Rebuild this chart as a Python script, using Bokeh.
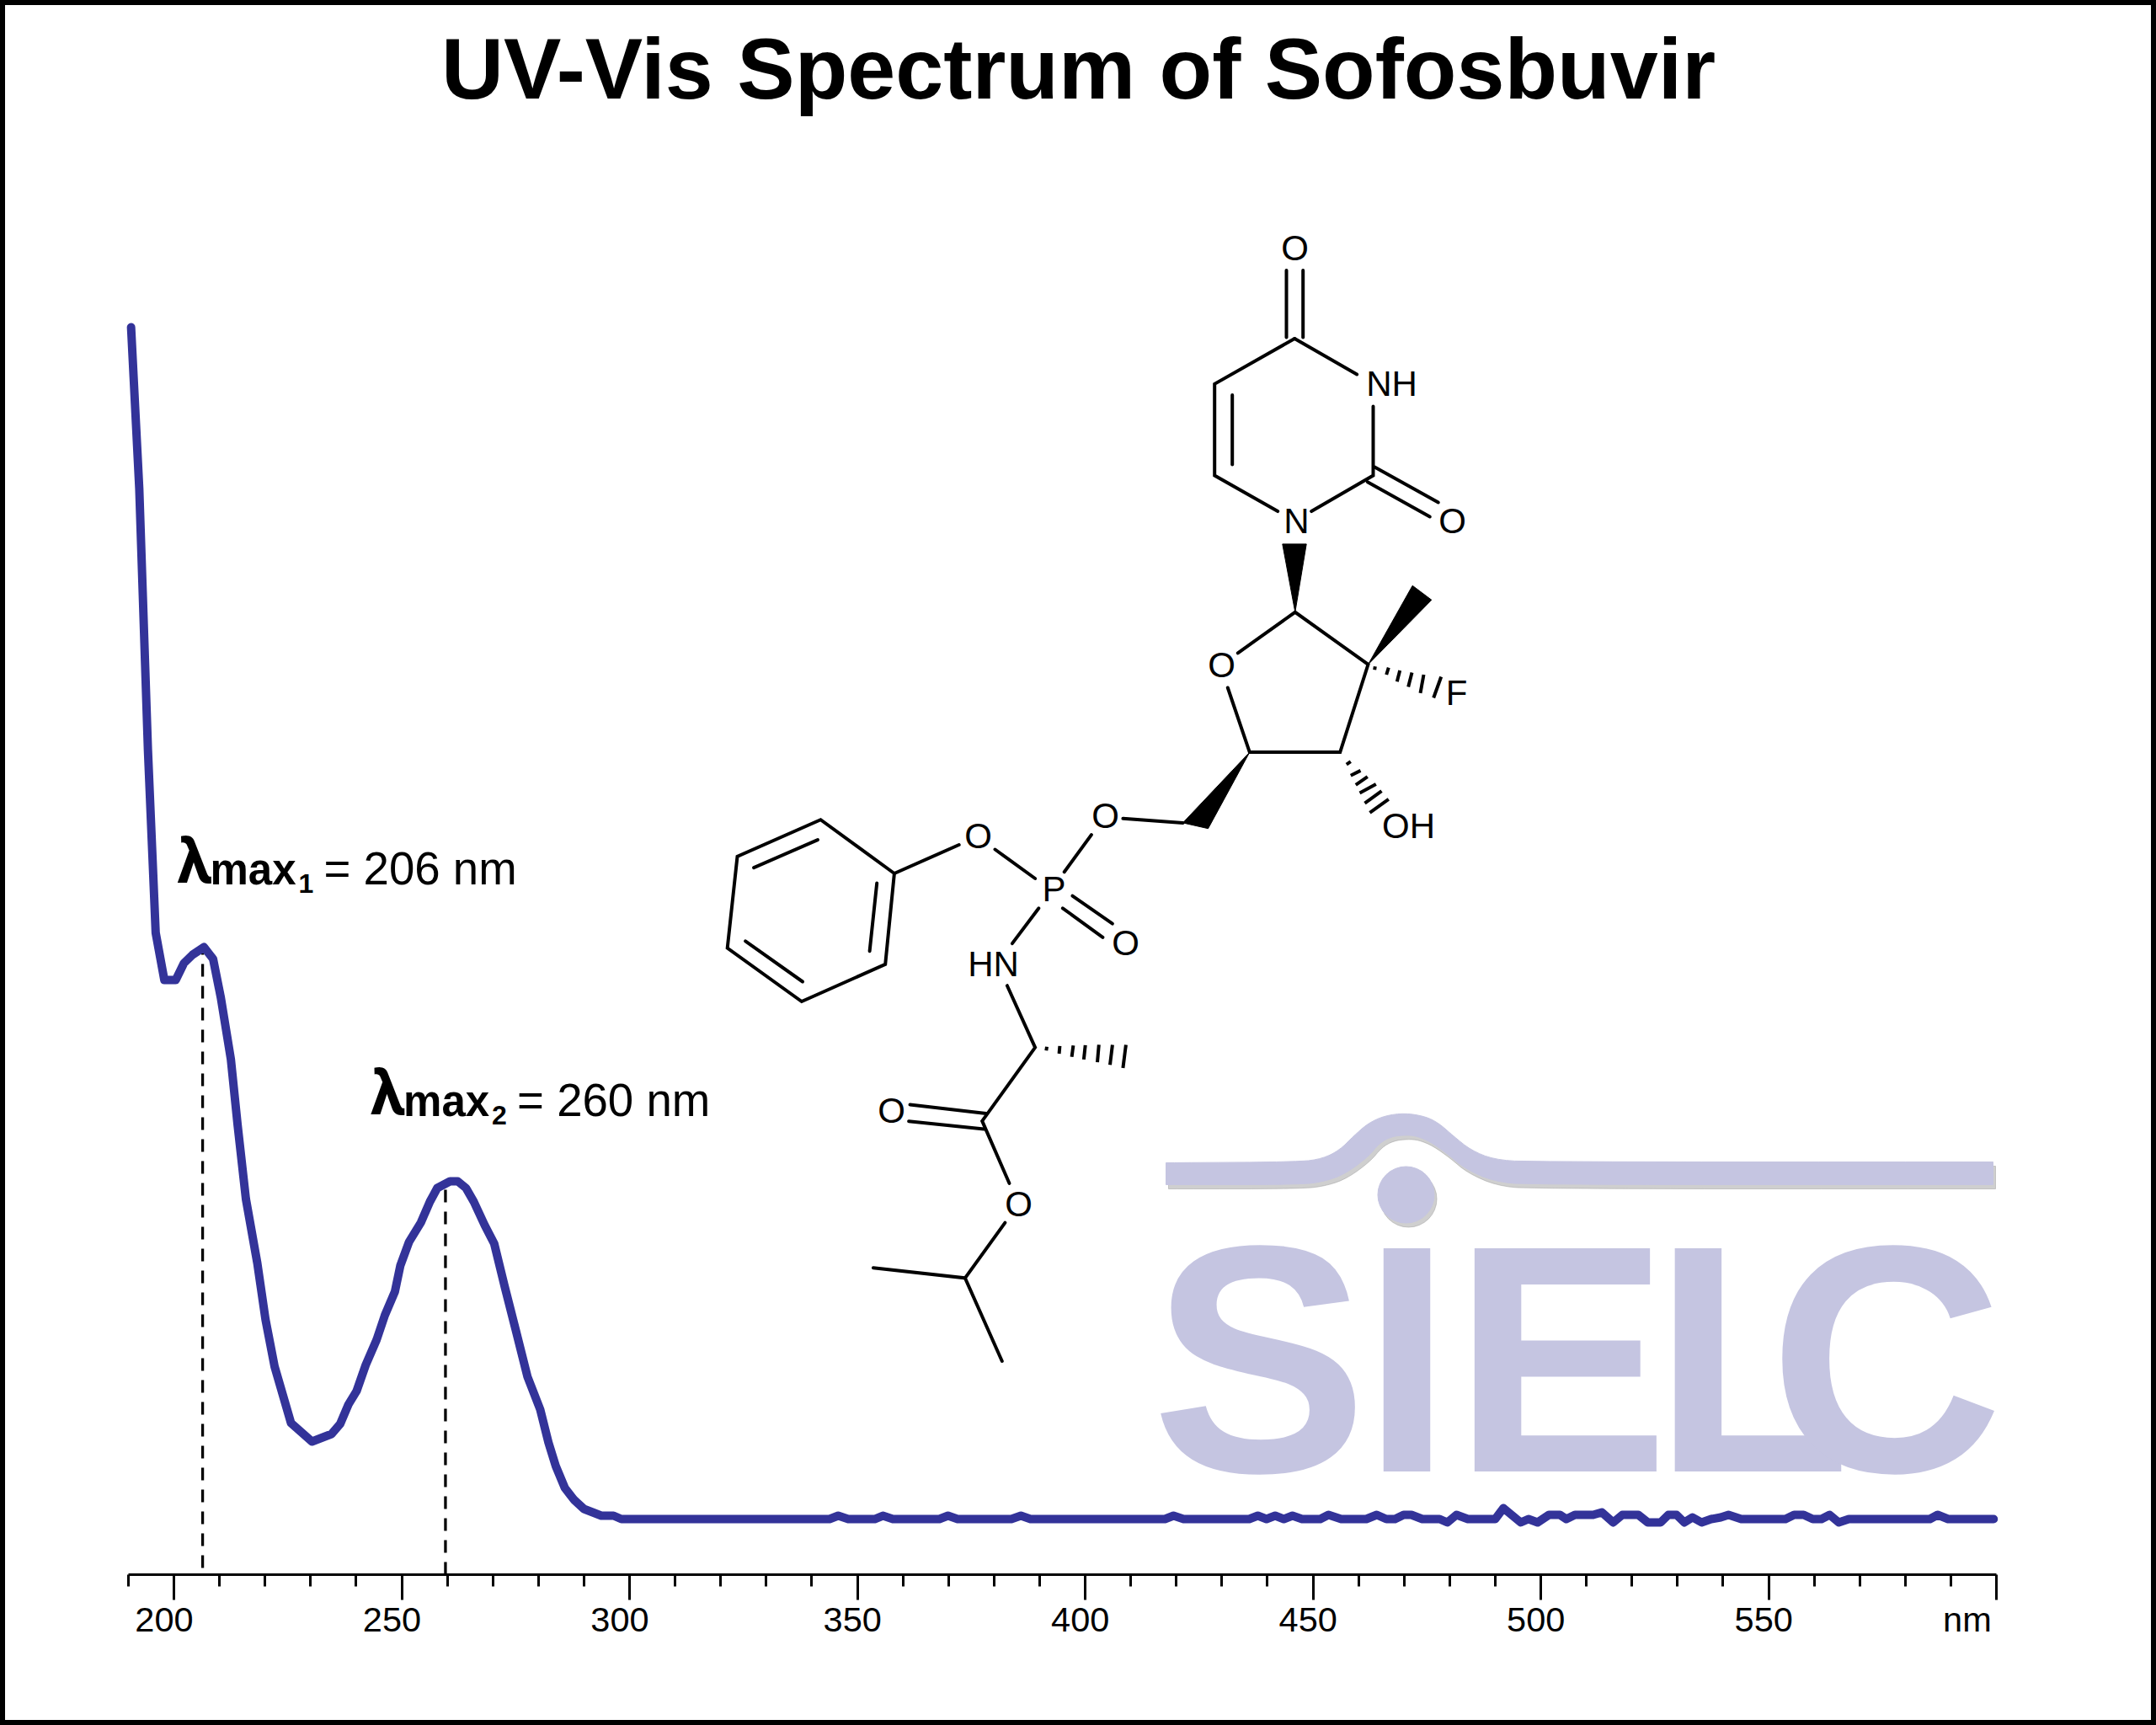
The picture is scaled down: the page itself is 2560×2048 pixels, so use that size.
from bokeh.plotting import figure
from bokeh.embed import file_html
from bokeh.resources import INLINE
from bokeh.core.properties import value
from bokeh.models import FixedTicker, Range1d

# ---------- spectrum ----------
wavelength = [190.6,192.4,194.3,196.0,197.9,200.4,202.2,204.1,206.6,208.6,210.3,212.5,214.0,215.8,218.3,220.1,222.1,225.7,
              230.3,234.6,236.5,238.3,240.1,242.1,244.5,246.3,248.5,249.7,251.6,254.2,256.2,257.8,260.6,262.3,264.1,265.8,
              268.2,270.3,272.6,275.0,277.6,280.4,282.2,283.8,285.8,287.8,290.0,293.8,296.5,298.2,
              343.9,345.8,348.0,353.8,355.6,357.8,368.0,369.9,372.0,383.8,385.9,388.0,417.5,419.4,421.6,436.0,437.9,439.8,441.7,
              443.6,445.5,447.6,451.6,453.4,456.2,461.7,464.0,466.1,468.0,469.9,471.6,474.0,477.8,479.5,481.5,484.0,490.0,
              491.8,495.6,497.3,499.3,501.8,504.2,505.6,507.5,511.5,513.4,515.9,517.9,521.4,523.5,526.3,528.0,529.8,531.5,
              533.3,535.3,537.4,539.5,541.2,544.0,553.7,555.6,557.7,559.7,561.6,563.4,565.4,567.6,585.4,587.1,589.4,599.4]
absorbance = [1.415,1.223,0.913,0.696,0.640,0.640,0.660,0.670,0.679,0.665,0.619,0.546,0.467,0.380,0.304,0.237,0.181,0.114,
              0.092,0.101,0.113,0.136,0.152,0.183,0.213,0.242,0.270,0.301,0.329,0.352,0.377,0.393,0.401,0.401,0.393,0.377,
              0.349,0.327,0.276,0.225,0.169,0.130,0.091,0.063,0.037,0.023,0.012,0.004,0.004,0.000,
              0.000,0.004,0.000,0.000,0.004,0.000,0.000,0.004,0.000,0.000,0.004,0.000,0.000,0.004,0.000,0.000,0.004,0.000,0.004,
              0.000,0.004,0.000,0.000,0.005,0.000,0.000,0.005,0.000,0.000,0.005,0.005,0.000,0.000,-0.004,0.005,0.000,0.000,
              0.013,-0.004,0.000,-0.004,0.005,0.005,0.000,0.005,0.005,0.008,-0.004,0.005,0.005,-0.004,-0.004,0.005,0.005,-0.004,
              0.002,-0.004,0.000,0.002,0.005,0.000,0.000,0.005,0.005,0.000,0.000,0.005,-0.004,0.000,0.000,0.005,0.000,0.000]
peak_nm = [206.3, 259.6]
peak_top = [0.679, 0.393]
peak_bottom = [-0.058, -0.066]

major_ticks = [200,250,300,350,400,450,500,550,600]
minor_ticks = [190,210,220,230,240,260,270,280,290,310,320,330,340,360,370,380,390,410,420,430,440,460,470,480,490,510,520,530,540,560,570,580,590]
NB = "\u00a0"
tick_labels = {200:"200"+NB*2, 250:"250"+NB*2, 300:"300"+NB*2, 350:"350"+NB, 400:"400"+NB, 450:"450"+NB,
               500:"500"+NB, 550:"550"+NB, 600:"nm"+NB*6}

TITLE = "UV-Vis Spectrum of Sofosbuvir"
LINE_COLOR = "#333399"
LOGO_COLOR = "#c5c5e1"

# ---------- molecule sketch, page pixels ----------
bonds = [
 [(1527,320.6),(1527,400)],[(1546.7,320.6),(1546.7,400)],
 [(1536.7,401.5),(1441.7,455.3),(1441.7,564),(1516.7,606.6)],
 [(1462.7,468.4),(1462.7,551)],
 [(1536.7,401.5),(1610.7,444)],[(1556.7,606.6),(1630,564),(1630,482)],
 [(1631.7,554),(1707.3,596)],[(1623.3,571.7),(1697.3,613)],
 [(1469.3,774.8),(1537.3,726.3),(1624,788.4),(1590.7,892.6),(1483.3,892.6),(1457.3,816)],
 [(1332.9,971.3),(1404,976.4)],
 [(1295.4,990.6),(1263.2,1034.7)],[(1181,1008),(1228.6,1042.5)],
 [(1061.4,1036.5),(1138.2,1002.5)],
 [(1061.4,1036.5),(973.9,972.7),(875,1016.3),(863.2,1125.1),(951.4,1188.5),(1050.7,1144.4),(1061.4,1036.5)],
 [(970.4,996.6),(894.6,1029.6)],[(884.6,1116.9),(952.5,1165)],[(1040.7,1048),(1032.1,1128.8)],
 [(1272.9,1063.1),(1320.4,1096.2)],[(1261.4,1077.8),(1308.9,1112.3)],
 [(1232.9,1077.8),(1201.4,1119.6)],
 [(1195.4,1169.7),(1228.6,1243.1),(1165.7,1330.4),(1197.9,1404.3)],
 [(1080,1311.1),(1170.4,1321.6)],[(1078.6,1330.8),(1167.9,1340)],
 [(1192.9,1451.1),(1145.4,1516.8),(1036.4,1504.8)],[(1145.4,1516.8),(1189.3,1615.5)],
]
hashes = [
 [(1632.3,790.8),(1631.7,794.7)],[(1648.3,792.2),(1645.7,800.5)],[(1661.7,795.6),(1658.3,808.7)],
 [(1676,798),(1671.7,815)],[(1690,800.5),(1686,822.3)],[(1710.7,803),(1701.7,828)],
 [(1598.3,907.1),(1603.3,903.7)],[(1603.3,920.2),(1615,914.4)],[(1609.3,931.3),(1623.3,921.7)],
 [(1614,941),(1633.3,930.4)],[(1620,953.1),(1640,938.6)],[(1626,964.3),(1648.3,948.3)],
 [(1242.5,1242.2),(1241.8,1246.8)],[(1257.9,1241.3),(1257.1,1250.5)],[(1273.9,1240.8),(1272.1,1254.2)],
 [(1288.2,1240.4),(1286.4,1257.4)],[(1304.3,1239.9),(1302.5,1260.6)],[(1320.4,1239.9),(1317.5,1263.8)],
 [(1336.4,1239.9),(1332.9,1267.5)],
]
wedges = [
 [(1522.3,645.4),(1550.7,645.4),(1537.3,726.3)],
 [(1624,788.4),(1676.7,694.8),(1699.3,711.8)],
 [(1483.3,892.6),(1404,976.4),(1434,983.2)],
]
atoms = ["O","NH","N","O","O","F","OH","O","O","P","O","HN","O","O"]
atom_x = [1537,1652,1539,1724,1450,1729,1672,1312,1161,1251,1336,1179,1058,1209]
atom_y = [294,455,618,618,789,822,980,968,992,1055,1119,1144,1318,1429]

# ---------- logo outline, page pixels ----------
swoosh_top = [(1384,1380),(1543,1379),(1570,1375),(1590,1365),(1607,1348),(1624,1333),(1644,1324),(1668,1321),
              (1692,1325),(1708,1333),(1725,1348),(1746,1365),(1773,1376),(1813,1379),(2366,1379)]
swoosh_bottom = [(2366,1406),(1813,1406),(1773,1402),(1739,1387),(1719,1370),(1698,1355),(1681,1348),(1668,1347),
                 (1651,1349),(1637,1357),(1624,1373),(1597,1393),(1573,1402),(1543,1406),(1384,1406)]
logo_letters = ["S","I","E","L","C"]
logo_x = [1495,1670,1853,2080,2239]
logo_y = [1613,1613,1613,1613,1613]
dot_x, dot_y, dot_r = [1669], [1418], [33.5]

def smooth(pts, n=2):
    for _ in range(n):
        out = [pts[0]]
        for a, b in zip(pts[:-1], pts[1:]):
            out.append((.75*a[0]+.25*b[0], .75*a[1]+.25*b[1]))
            out.append((.25*a[0]+.75*b[0], .25*a[1]+.75*b[1]))
        out.append(pts[-1])
        pts = out
    return pts

W, H = 2560, 2048
FRAME_T, FRAME_B = 150, 1869
nm_per_px = 1/5.41
A_per_px = 1/1000

p = figure(width=W, height=H, output_backend="svg", toolbar_location=None,
           x_range=Range1d(200+(0-206)*nm_per_px, 200+(W-206)*nm_per_px),
           y_range=Range1d((1803-FRAME_B)*A_per_px, (1803-FRAME_T)*A_per_px),
           y_axis_location=None, title=TITLE, min_border_left=0, min_border_right=0,
           min_border_top=FRAME_T, min_border_bottom=H-FRAME_B)
p.extra_x_ranges["px"] = Range1d(0, W)
p.extra_y_ranges["px"] = Range1d(FRAME_B, FRAME_T)
p.grid.visible = False
p.outline_line_color = None
p.background_fill_color = None
p.border_fill_color = None
p.styles = {"box-shadow": "inset 0 0 0 6px black", "background-color": "white"}

p.title.text_font = "Liberation Sans"
p.title.text_font_style = "bold"
p.title.text_font_size = "102.5px"
p.title.text_color = "black"
p.title.align = "center"
p.title.standoff = 23

ax = p.xaxis[0]
ax.ticker = FixedTicker(ticks=major_ticks, minor_ticks=minor_ticks)
ax.bounds = (190, 600)
ax.axis_line_width = 3
ax.major_tick_line_width = 3
ax.minor_tick_line_width = 3
ax.major_tick_out = 30
ax.major_tick_in = 0
ax.minor_tick_out = 14
ax.minor_tick_in = 0
ax.axis_line_color = ax.major_tick_line_color = ax.minor_tick_line_color = "black"
ax.major_label_overrides = tick_labels
ax.major_label_standoff = -1
ax.major_label_text_font = "Liberation Sans"
ax.major_label_text_font_size = "41.5px"
ax.major_label_text_color = "black"

# logo beneath the curve
top = smooth(swoosh_top); bot = smooth(swoosh_bottom)
outline = top + bot
sx = [q[0] for q in outline]; sy = [q[1] for q in outline]
p.patch([v+3 for v in sx], [v+5 for v in sy], x_range_name="px", y_range_name="px", color="#a0a0a0", alpha=0.5)
p.circle([dot_x[0]+3], [dot_y[0]+5], radius=dot_r[0], x_range_name="px", y_range_name="px", color="#a0a0a0", alpha=0.5)
p.patch(sx, sy, x_range_name="px", y_range_name="px", color=LOGO_COLOR)
p.circle(dot_x, dot_y, radius=dot_r[0], x_range_name="px", y_range_name="px", color=LOGO_COLOR)
p.text(logo_x, logo_y, text=logo_letters, x_range_name="px", y_range_name="px", text_font=value("Liberation Sans"),
       text_font_style="bold", text_font_size="385px", text_color=LOGO_COLOR, text_align="center", text_baseline="middle")

# spectrum
p.segment(peak_nm, peak_bottom, peak_nm, peak_top, line_color="black", line_width=3.3, line_dash="15 11")
p.line(wavelength, absorbance, line_color=LINE_COLOR, line_width=10, line_join="round", line_cap="round")

# molecule
p.multi_line([[q[0] for q in b] for b in bonds], [[q[1] for q in b] for b in bonds], x_range_name="px", y_range_name="px",
             line_color="black", line_width=4, line_cap="round", line_join="miter")
p.multi_line([[q[0] for q in b] for b in hashes], [[q[1] for q in b] for b in hashes], x_range_name="px", y_range_name="px",
             line_color="black", line_width=4)
p.patches([[q[0] for q in b] for b in wedges], [[q[1] for q in b] for b in wedges], x_range_name="px", y_range_name="px",
          color="black", line_width=1)
p.text(atom_x, atom_y, text=atoms, x_range_name="px", y_range_name="px", text_font=value("Liberation Sans"),
       text_font_size="42px", text_color="black", text_align="center", text_baseline="middle")

# annotations
def peak_label(xl, base, sub, val):
    kw = dict(x_range_name="px", y_range_name="px", text_color="black", text_baseline="middle")
    sans = value("Liberation Sans")
    p.text([xl-3], [base-28], text=["\u03bb"], text_font=value("Roboto"), text_font_size="74px", text_font_style="bold", **kw)
    p.text([xl+36], [base-18], text=["max"], text_font=sans, text_font_size="51px", text_font_style="bold", **kw)
    p.text([xl+141], [base-1.5], text=[sub], text_font=sans, text_font_size="32px", text_font_style="bold", **kw)
    p.text([xl+171], [base-19], text=[val], text_font=sans, text_font_size="54.6px", **kw)

peak_label(213, 1050, "1", "= 206 nm")
peak_label(442.6, 1325, "2", "= 260 nm")

open("out.html", "w").write(file_html(p, INLINE))
